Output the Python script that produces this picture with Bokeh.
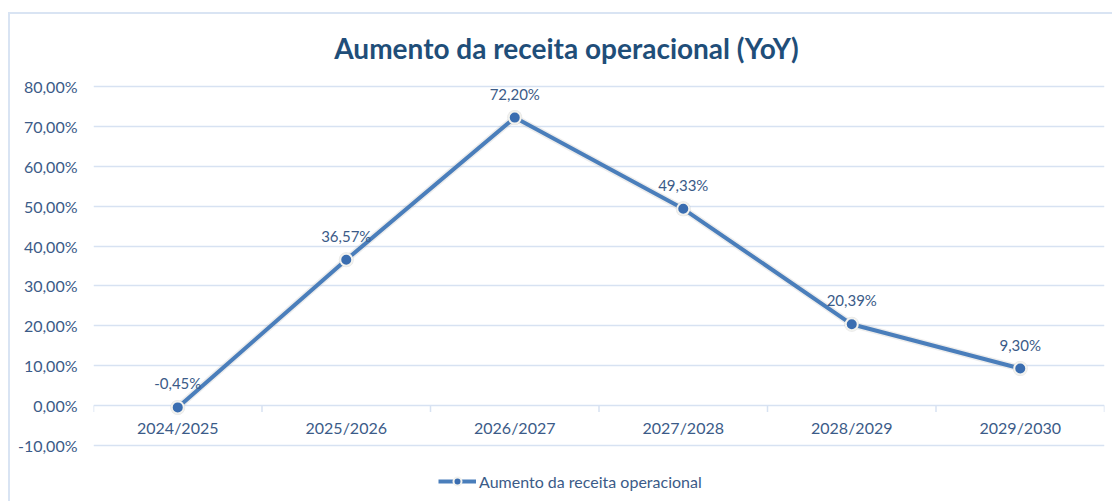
from bokeh.plotting import figure
from bokeh.models import (ColumnDataSource, CustomJSTickFormatter, FixedTicker,
                          Legend, LegendItem, Range1d, FactorRange, Label)
from bokeh.embed import file_html
from bokeh.resources import INLINE
from bokeh.core.properties import value

categories = ["2024/2025", "2025/2026", "2026/2027", "2027/2028", "2028/2029", "2029/2030"]
growth_pct = [-0.45, 36.57, 72.20, 49.33, 20.39, 9.30]
y_ticks = [-10, 0, 10, 20, 30, 40, 50, 60, 70, 80]
title_text = "Aumento da receita operacional (YoY)"
series_name = "Aumento da receita operacional"

labels = [f"{v:.2f}".replace(".", ",") + "%" for v in growth_pct]
src = ColumnDataSource(dict(cat=categories, val=growth_pct, lab=labels))
cat_src = ColumnDataSource(dict(cat=categories, zero=[0] * len(categories)))

FONT = "Lato"
TXT = "#3b5b88"
GRID = "#d7e2f2"
LINE = "#4a7ebb"

# value axis spans -10..80 over 359 px; frame extended above (title) and below (legend)
px_per_unit = 359 / 90
y_min = 80 - 412 / px_per_unit
y_max = 80 + 72 / px_per_unit

p = figure(x_range=FactorRange(*categories), y_range=Range1d(y_min, y_max),
           width=1104, height=489, output_backend="svg", toolbar_location=None,
           min_border_left=83, min_border_right=10, min_border_top=0, min_border_bottom=5,
           margin=(12, 0, 0, 8))
p.styles = {"border-top": "2px solid #d9e4f3", "border-left": "2px solid #d9e4f3"}
p.outline_line_color = None
p.background_fill_color = "white"
p.border_fill_color = "white"

title = Label(x=473, y=80 + 39 / px_per_unit, x_units="screen", y_units="data",
              text=title_text, text_align="center", text_baseline="middle",
              text_font=FONT, text_font_size="28px", text_font_style="bold",
              text_color="#1f4e79")
p.add_layout(title)

# y axis
p.yaxis.ticker = FixedTicker(ticks=y_ticks)
p.yaxis.formatter = CustomJSTickFormatter(code="return tick.toFixed(2).replace('.', ',') + '%';")
p.yaxis.axis_line_color = None
p.yaxis.major_tick_line_color = None
p.yaxis.minor_tick_line_color = None
p.yaxis.major_tick_out = 0
p.yaxis.major_label_standoff = 16
p.yaxis.major_label_text_font = FONT
p.yaxis.major_label_text_font_size = "16px"
p.yaxis.major_label_text_color = TXT
p.ygrid.ticker = FixedTicker(ticks=y_ticks)
p.ygrid.grid_line_color = GRID
p.ygrid.grid_line_width = 1.5
p.xgrid.grid_line_color = None
p.xaxis.visible = False

# category axis drawn at zero: boundary ticks + labels
bx = [(c, -0.5) for c in categories] + [(categories[-1], 0.5)]
p.segment(x0=bx, x1=bx, y0=[0] * len(bx), y1=[-1.6] * len(bx), line_color=GRID, line_width=1.5)
p.text("cat", "zero", text="cat", source=cat_src, y_offset=22, text_align="center",
       text_baseline="middle", text_font=value(FONT), text_font_size="16px", text_color=TXT)

# shadow-ish
p.line("cat", "val", source=src, line_color="#9a9a9a", line_alpha=0.18, line_width=7)
ln = p.line("cat", "val", source=src, line_color=LINE, line_width=4)
p.scatter("cat", "val", source=src, size=15, fill_color="#9a9a9a", fill_alpha=0.25, line_color=None)
sc = p.scatter("cat", "val", source=src, size=12, fill_color="#3a6db0",
               line_color="#f2f2ee", line_width=2)

p.text("cat", "val", text="lab", source=src, y_offset=-24, text_align="center",
       text_baseline="middle", text_font=value(FONT), text_font_size="15px", text_color=TXT)

legend = Legend(items=[LegendItem(label=series_name, renderers=[ln, sc])],
                location=(345, 7), orientation="horizontal",
                label_text_font=FONT, label_text_font_size="16px", label_text_color=TXT,
                glyph_width=38, glyph_height=20, label_height=20, label_standoff=3,
                padding=0, margin=0, border_line_color=None, background_fill_alpha=0)
p.add_layout(legend, "center")

open("out.html", "w").write(file_html(p, INLINE))
